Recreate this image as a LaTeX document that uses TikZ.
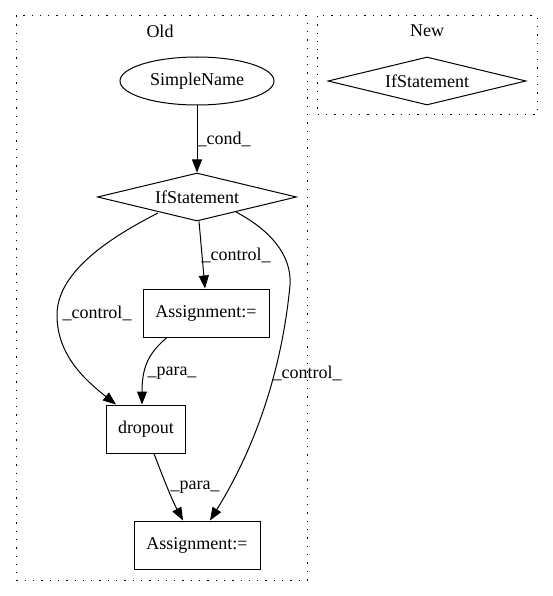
\documentclass[tikz,border=0pt]{standalone}
\usepackage{fontspec}
\setmainfont{Liberation Serif}
\usetikzlibrary{shapes.geometric,arrows.meta}
\begin{document}
\begin{tikzpicture}[x=1pt,y=-1pt,
  every node/.style={font=\fontsize{18}{21}\selectfont, inner sep=0pt},
  cluster/.style={draw, line width=1pt, dash pattern=on 1.3pt off 7pt},
  ellnode/.style={draw, line width=1pt, ellipse, minimum width=154pt, minimum height=48pt},
  dia/.style={draw, line width=1pt, diamond, aspect=4.2, minimum width=199pt, minimum height=48pt},
  box/.style={draw, line width=1pt, rectangle, minimum height=48pt},
  edge/.style={line width=1pt, -{Triangle[length=13pt,width=10pt]}},
  lbl/.style={fill=none}
]
\useasboundingbox (0,0) rectangle (552,596);
\draw[cluster] (16,16) rectangle (307,580);
\draw[cluster] (317,16) rectangle (537,115);
\node (oldlbl) at (160,31) {Old};
\node (newlbl) at (427,31) {New};

\node[ellnode] (sn) at (197,81) {SimpleName};
\node[dia] (if) at (197,197) {IfStatement};
\node[dia, minimum width=198pt] (ifnew) at (427,81) {IfStatement};
\node[box, minimum width=126pt] (as1) at (206,313) {Assignment:=};
\node[box, minimum width=79pt] (drop) at (146,429) {dropout};
\node[box, minimum width=126pt] (as2) at (197,545) {Assignment:=};

\coordinate (lm) at (57,315);
\coordinate (rm) at (290,285);

\draw[edge] (sn.south) -- (if.north);
\node[lbl] (lcond) at (224,139) {\_cond\_};

\draw[edge] (if.south) ++(2,0) -- ([xshift=-1pt]as1.north);
\node[lbl] (lc1) at (236,255) {\_control\_};

\draw[line width=1pt] (158,213) .. controls (115,235) and (57,270) .. (lm);
\draw[edge] (lm) .. controls (57,355) and (85,380) .. ([xshift=-30pt]drop.north);
\node[lbl] (lc2) at (97,313) {\_control\_};

\draw[line width=1pt] (236,212) .. controls (270,230) and (292,255) .. (rm);
\draw[edge] (rm) .. controls (283,360) and (260,440) .. ([xshift=13pt]as2.north);
\node[lbl] (lc3) at (307,373) {\_control\_};

\draw[edge] ([xshift=-39pt]as1.south) .. controls (150,352) and (142,365) .. ([xshift=-4pt]drop.north);
\node[lbl] (lp1) at (172,373) {\_para\_};

\draw[edge] ([xshift=8pt]drop.south) .. controls (162,475) and (172,500) .. ([xshift=-14pt]as2.north);
\node[lbl] (lp2) at (195,487) {\_para\_};
\end{tikzpicture}
\end{document}
